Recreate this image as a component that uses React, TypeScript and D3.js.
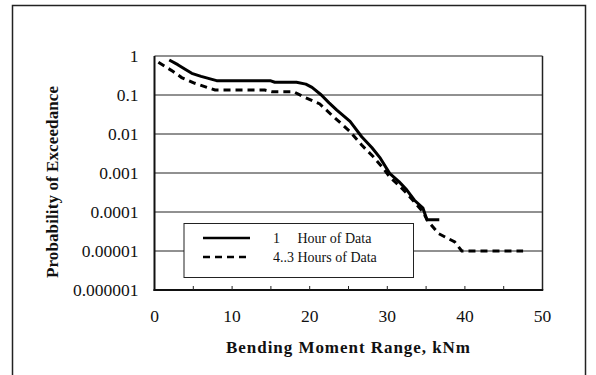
import React from "react";
import * as d3 from "d3";

const xTicks = [0, 10, 20, 30, 40, 50];
const xMinorTicks = [5, 10, 15, 20, 25, 30, 35, 40, 45];
const yTicks = [1, 0.1, 0.01, 0.001, 0.0001, 0.00001, 0.000001];
const yTickLabels = ["1", "0.1", "0.01", "0.001", "0.0001", "0.00001", "0.000001"];

const oneHourX = [1.9, 3.0, 4.0, 4.8, 6.0, 8.0, 14.9, 15.5, 18.3, 19.5, 20.3, 21.5, 22.5, 23.5, 25.2, 26.7, 28.0, 29.1, 30.3, 31.5, 32.5, 33.5, 34.6, 35.1, 36.7];
const oneHourY = [0.79, 0.6, 0.45, 0.36, 0.3, 0.233, 0.233, 0.212, 0.212, 0.19, 0.157, 0.1, 0.063, 0.041, 0.021, 0.0085, 0.0045, 0.0024, 0.00098, 0.0006, 0.00037, 0.0002, 0.000125, 0.000063, 0.000063];

const fourHourX = [0.5, 1.5, 2.4, 3.5, 5.2, 7.8, 14.2, 15.1, 17.9, 19.2, 21.3, 22.8, 24.0, 25.2, 26.7, 28.2, 29.5, 30.3, 31.5, 32.5, 33.5, 34.6, 35.2, 36.6, 38.7, 39.6, 47.5];
const fourHourY = [0.69, 0.52, 0.4, 0.28, 0.2, 0.134, 0.134, 0.122, 0.122, 0.09, 0.059, 0.031, 0.019, 0.0115, 0.0052, 0.0026, 0.0013, 0.0008, 0.00048, 0.0003, 0.00018, 0.0001, 0.00006, 0.000028, 0.000017, 0.00001, 0.00001];

const seriesNames = ["1     Hour of Data", "4..3 Hours of Data"];
const xTitle = "Bending Moment Range, kNm";
const yTitle = "Probability of Exceedance";

const W = 596;
const H = 375;
const plot = { left: 154.5, right: 542.5, top: 56, bottom: 290 };
const font = "'Liberation Serif', 'Times New Roman', serif";

export default function App() {
  const x = d3.scaleLinear().domain([0, 50]).range([plot.left, plot.right]);
  const y = d3.scaleLog().domain([0.000001, 1]).range([plot.bottom, plot.top]);
  const line = d3
    .line<[number, number]>()
    .x((d) => x(d[0]))
    .y((d) => y(d[1]))
    .curve(d3.curveLinear);
  const s1 = oneHourX.map((v, i) => [v, oneHourY[i]] as [number, number]);
  const s2 = fourHourX.map((v, i) => [v, fourHourY[i]] as [number, number]);
  const ts = { fontFamily: font };

  return (
    <svg
      width={W}
      height={H}
      style={{ position: "absolute", left: 0, top: 0, background: "#fff", fontFamily: font }}
    >
      <rect x={0} y={0} width={W} height={H} fill="#fff" />
      <rect x={12.5} y={5.5} width={573} height={380} fill="none" stroke="#222" strokeWidth={1.5} />
      {/* gridlines */}
      {yTicks.slice(1, -1).map((t) => (
        <line key={t} x1={plot.left} x2={plot.right} y1={y(t)} y2={y(t)} stroke="#222" strokeWidth={1} />
      ))}
      {/* plot frame */}
      <line x1={plot.left} x2={plot.right} y1={plot.top} y2={plot.top} stroke="#222" strokeWidth={1.2} />
      <line x1={plot.right} x2={plot.right} y1={plot.top} y2={plot.bottom} stroke="#222" strokeWidth={1.5} />
      <line x1={plot.left} x2={plot.left} y1={plot.top} y2={plot.bottom + 1} stroke="#111" strokeWidth={2} />
      <line x1={plot.left - 1} x2={plot.right + 0.75} y1={plot.bottom} y2={plot.bottom} stroke="#111" strokeWidth={2} />
      {xMinorTicks.map((t) => (
        <line key={t} x1={x(t)} x2={x(t)} y1={plot.bottom} y2={plot.bottom - 4} stroke="#222" strokeWidth={1} />
      ))}
      {/* tick labels */}
      {yTicks.map((t, i) => (
        <text key={t} x={138.5} y={y(t)} dy="0.35em" textAnchor="end" fontSize={17.5} fill="#111" style={ts}>
          {yTickLabels[i]}
        </text>
      ))}
      {xTicks.map((t) => (
        <text key={t} x={x(t)} y={322} textAnchor="middle" fontSize={17.5} fill="#111" style={ts}>
          {t}
        </text>
      ))}
      {/* titles */}
      <text x={348} y={353} textAnchor="middle" fontSize={17} fontWeight="bold" fill="#111" textLength={244} lengthAdjust="spacing" style={ts}>
        {xTitle}
      </text>
      <text
        transform={`translate(58,182) rotate(-90)`}
        textAnchor="middle"
        fontSize={17}
        fontWeight="bold"
        fill="#111"
        textLength={192}
        lengthAdjust="spacing"
        style={ts}
      >
        {yTitle}
      </text>
      {/* series */}
      <path d={line(s2) || ""} fill="none" stroke="#000" strokeWidth={3} strokeDasharray="7,5" />
      <path d={line(s1) || ""} fill="none" stroke="#000" strokeWidth={3} strokeLinejoin="round" />
      {/* legend */}
      <rect x={184} y={223.5} width={229.5} height={54} fill="#fff" stroke="#222" strokeWidth={1} />
      <line x1={203} x2={250} y1={238} y2={238} stroke="#000" strokeWidth={2.5} />
      <line x1={203} x2={250} y1={257} y2={257} stroke="#000" strokeWidth={2.5} strokeDasharray="7,5" />
      <text x={273} y={238} dy="0.35em" fontSize={14} fill="#111" style={{ ...ts, whiteSpace: "pre" }}>
        {seriesNames[0]}
      </text>
      <text x={273} y={257} dy="0.35em" fontSize={14} fill="#111" style={{ ...ts, whiteSpace: "pre" }}>
        {seriesNames[1]}
      </text>
    </svg>
  );
}
